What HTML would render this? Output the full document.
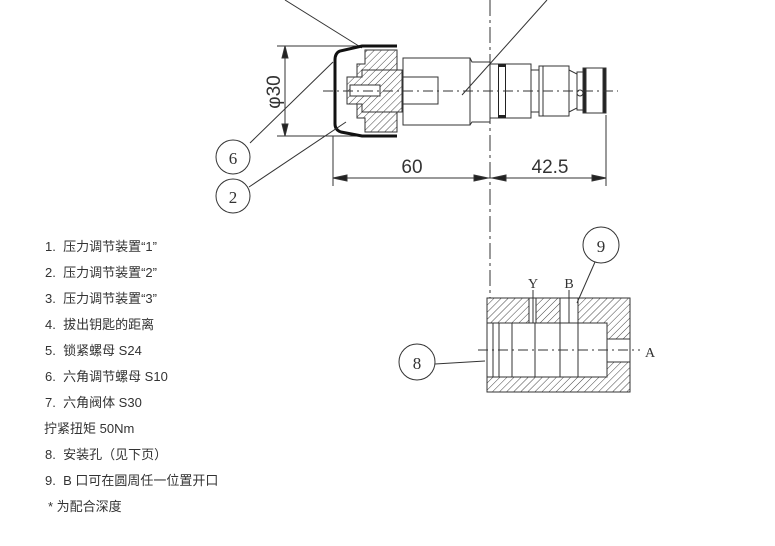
<!DOCTYPE html>
<html><head><meta charset="utf-8"><style>
body{margin:0;background:#fff;width:775px;height:546px;overflow:hidden;position:relative;font-family:"Liberation Sans","Noto Sans CJK SC",sans-serif}
.t{position:absolute;left:45px;font-size:13px;color:#333;white-space:nowrap;line-height:14px}
svg{position:absolute;left:0;top:0}
</style></head><body>
<svg width="775" height="546" viewBox="0 0 775 546">
<defs>
<pattern id="h" width="5" height="5" patternUnits="userSpaceOnUse" patternTransform="rotate(45)">
<rect width="5" height="5" fill="#fff"/><line x1="0" y1="0" x2="0" y2="5" stroke="#444" stroke-width="1"/></pattern>
</defs>
<g stroke="#333" fill="none" stroke-width="1">
<line x1="285" y1="0" x2="362" y2="48"/>
<line x1="547" y1="0" x2="462" y2="95"/>
<line x1="277" y1="46" x2="362" y2="46"/>
<line x1="277" y1="136" x2="362" y2="136"/>
<line x1="285" y1="46" x2="285" y2="136"/>
<polygon points="285,46 282,58 288,58" fill="#222"/>
<polygon points="285,136 282,124 288,124" fill="#222"/>
<path d="M397,46 L362,46 L340,51 Q335,53 335,60 L335,124 Q335,130 341,132 L362,136 L397,136" stroke="#111" stroke-width="3"/>
<path d="M365,50 L397,50 L397,132 L365,132 L365,118 L357,118 L357,64 L365,64 Z" fill="url(#h)"/>
<path d="M347,77 L362,77 L362,70 L402,70 L402,112 L362,112 L362,104 L347,104 Z" fill="url(#h)"/>
<rect x="350" y="85" width="30" height="11" fill="#fff"/>
<rect x="403" y="58" width="67" height="67"/>
<rect x="403" y="77" width="35" height="27"/>
<path d="M470,58 L472,62 L490,62 L490,122 L472,122 L470,125"/>
<rect x="490" y="64" width="41" height="54"/>
<rect x="498" y="64" width="8" height="54" fill="#222" stroke="none"/>
<rect x="499" y="67" width="6" height="48" fill="#fff" stroke="none"/>
<rect x="531" y="70" width="8" height="42"/>
<rect x="539" y="66" width="30" height="50"/>
<line x1="543" y1="66" x2="543" y2="116"/>
<path d="M569,70 L577,74 L577,108 L569,112"/>
<rect x="577" y="72" width="6" height="38"/>
<rect x="583" y="68" width="23" height="45"/>
<rect x="583" y="68" width="3" height="45" fill="#222"/>
<rect x="603" y="68" width="3" height="45" fill="#222"/>
<circle cx="580" cy="93" r="3"/>
<line x1="323" y1="91" x2="618" y2="91" stroke-dasharray="10,4,2,4"/>
<line x1="490" y1="0" x2="490" y2="320" stroke-dasharray="16,4,3,4"/>
<line x1="333" y1="136" x2="333" y2="186"/>
<line x1="606" y1="115" x2="606" y2="186"/>
<line x1="333" y1="178" x2="606" y2="178"/>
<polygon points="333,178 347,175 347,181" fill="#222"/>
<polygon points="488,178 474,175 474,181" fill="#222"/>
<polygon points="492,178 506,175 506,181" fill="#222"/>
<polygon points="606,178 592,175 592,181" fill="#222"/>
<circle cx="233" cy="157" r="17"/>
<circle cx="233" cy="196" r="17"/>
<line x1="250" y1="143" x2="333" y2="62"/>
<line x1="249" y1="187" x2="346" y2="122"/>
<path d="M487,298 L630,298 L630,392 L487,392 Z" fill="url(#h)"/>
<path d="M487,323 L607,323 L607,339 L630,339 L630,362 L607,362 L607,377 L487,377 Z" fill="#fff"/>
<rect x="529" y="298" width="7" height="25" fill="#fff"/>
<rect x="560" y="298" width="18" height="25" fill="#fff"/>
<line x1="529" y1="298" x2="529" y2="323"/><line x1="536" y1="298" x2="536" y2="323"/>
<line x1="560" y1="298" x2="560" y2="323"/><line x1="578" y1="298" x2="578" y2="323"/>
<line x1="533" y1="290" x2="533" y2="323"/>
<line x1="569" y1="290" x2="569" y2="323"/>
<path d="M493,323 L493,377 M499,323 L499,377 M512,323 L512,377 M535,323 L535,377 M560,323 L560,377 M578,323 L578,377 M607,323 L607,377"/>
<line x1="487" y1="323" x2="607" y2="323"/><line x1="487" y1="377" x2="607" y2="377"/>
<line x1="607" y1="339" x2="630" y2="339"/><line x1="607" y1="362" x2="630" y2="362"/>
<line x1="478" y1="350" x2="640" y2="350" stroke-dasharray="10,4,2,4"/>
<circle cx="601" cy="245" r="18"/>
<line x1="595" y1="262" x2="577" y2="303"/>
<circle cx="417" cy="362" r="18"/>
<line x1="435" y1="364" x2="485" y2="361"/>
</g>
<g font-family="Liberation Sans, sans-serif" fill="#333">
<text x="275" y="92" font-size="19" transform="rotate(-90 275 92)" text-anchor="middle" dominant-baseline="middle">φ30</text>
<text x="412" y="173" font-size="19" text-anchor="middle">60</text>
<text x="550" y="173" font-size="19" text-anchor="middle">42.5</text>
<text x="233" y="164" font-size="17" text-anchor="middle" font-family="Liberation Serif">6</text>
<text x="233" y="203" font-size="17" text-anchor="middle" font-family="Liberation Serif">2</text>
<text x="601" y="252" font-size="17" text-anchor="middle" font-family="Liberation Serif">9</text>
<text x="417" y="369" font-size="17" text-anchor="middle" font-family="Liberation Serif">8</text>
<text x="533" y="288" font-size="14" text-anchor="middle" font-family="Liberation Serif">Y</text>
<text x="569" y="288" font-size="14" text-anchor="middle" font-family="Liberation Serif">B</text>
<text x="650" y="357" font-size="14" text-anchor="middle" font-family="Liberation Serif">A</text>
</g>
</svg>
<div class="t" style="top:240px">1.&nbsp; 压力调节装置“1”</div>
<div class="t" style="top:266px">2.&nbsp; 压力调节装置“2”</div>
<div class="t" style="top:292px">3.&nbsp; 压力调节装置“3”</div>
<div class="t" style="top:318px">4.&nbsp; 拔出钥匙的距离</div>
<div class="t" style="top:344px">5.&nbsp; 锁紧螺母 S24</div>
<div class="t" style="top:370px">6.&nbsp; 六角调节螺母 S10</div>
<div class="t" style="top:396px">7.&nbsp; 六角阀体 S30</div>
<div class="t" style="top:422px;left:44px">拧紧扭矩 50Nm</div>
<div class="t" style="top:448px">8.&nbsp; 安装孔（见下页）</div>
<div class="t" style="top:474px">9.&nbsp; B 口可在圆周任一位置开口</div>
<div class="t" style="top:500px;left:48px">* 为配合深度</div>
</body></html>
